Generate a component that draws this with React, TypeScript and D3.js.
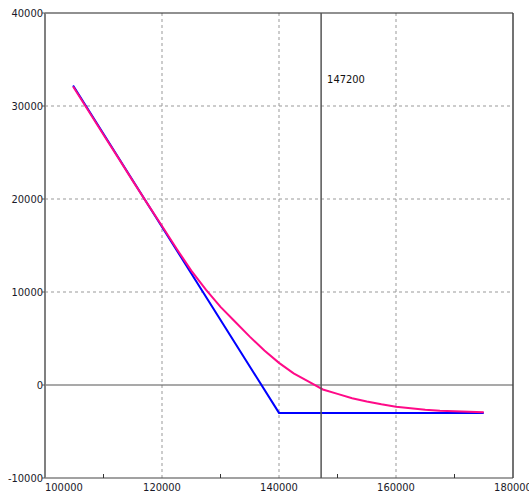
import * as d3 from 'd3';

// underlying price (x) and P/L (y)
const expiryX = [104800, 140000, 175000];
const expiryY = [32200, -3000, -3000];

const todayX = [
  104800, 107500, 110000, 112500, 115000, 117500, 120000, 122500, 125000, 127500,
  130000, 132500, 135000, 137500, 140000, 142500, 145000, 147500, 150000, 152500,
  155000, 157500, 160000, 162500, 165000, 167500, 170000, 172500, 175000,
];
const todayY = [
  32100, 29400, 26900, 24450, 21950, 19500, 17100, 14650, 12300, 10250,
  8400, 6800, 5200, 3700, 2380, 1250, 380, -480, -950, -1420,
  -1770, -2080, -2330, -2500, -2650, -2760, -2830, -2880, -2930,
];

const xTicks = [100000, 120000, 140000, 160000, 180000];
const xMinor = [110000, 130000, 150000, 170000];
const yTicks = [-10000, 0, 10000, 20000, 30000, 40000];
const cursorX = 147200;

const W = 529;
const H = 493;
const left = 45;
const right = 513;
const top = 13;
const bottom = 478;

const font = '"DejaVu Sans Condensed", "DejaVu Sans", sans-serif';

export default function App() {
  const x = d3.scaleLinear().domain([100000, 180000]).range([left, right]);
  const y = d3.scaleLinear().domain([-10000, 40000]).range([bottom, top]);

  const line = d3
    .line<[number, number]>()
    .x((d) => x(d[0]))
    .y((d) => y(d[1]));

  const expiry = expiryX.map((v, i) => [v, expiryY[i]] as [number, number]);
  const today = todayX.map((v, i) => [v, todayY[i]] as [number, number]);

  return (
    <div style={{ position: 'fixed', left: 0, top: 0 }}>
      <svg width={W} height={H} style={{ display: 'block', background: '#fff' }}>
        {/* grid */}
        {[120000, 140000, 160000].map((t) => (
          <line
            key={'gx' + t}
            x1={x(t)}
            x2={x(t)}
            y1={top}
            y2={bottom}
            stroke="#999"
            strokeDasharray="3,3"
          />
        ))}
        {[10000, 20000, 30000].map((t) => (
          <line
            key={'gy' + t}
            x1={left}
            x2={right}
            y1={y(t)}
            y2={y(t)}
            stroke="#999"
            strokeDasharray="3,3"
          />
        ))}

        {/* zero line */}
        <line x1={left} x2={right} y1={y(0)} y2={y(0)} stroke="#555" strokeWidth={1.2} />

        {/* frame */}
        <line x1={left} x2={right} y1={top} y2={top} stroke="#222" strokeWidth={1.2} />
        <line x1={right} x2={right} y1={top} y2={bottom} stroke="#444" strokeWidth={1.5} />
        <line x1={left} x2={right} y1={bottom} y2={bottom} stroke="#444" strokeWidth={1.2} />
        <line x1={left} x2={left} y1={top} y2={bottom} stroke="#808080" strokeWidth={2} />

        {/* minor ticks */}
        {xMinor.map((t) => (
          <line key={'mx' + t} x1={x(t)} x2={x(t)} y1={bottom} y2={bottom - 4} stroke="#333" />
        ))}
        {yTicks.map((t) => (
          <line key={'ty' + t} x1={left - 3} x2={left} y1={y(t)} y2={y(t)} stroke="#555" />
        ))}

        {/* series */}
        <path d={line(expiry) ?? ''} fill="none" stroke="#0000ff" strokeWidth={2} />
        <path d={line(today) ?? ''} fill="none" stroke="#ff0a88" strokeWidth={2} />

        {/* cursor */}
        <line
          x1={x(cursorX)}
          x2={x(cursorX)}
          y1={top}
          y2={bottom}
          stroke="#555"
          strokeWidth={1.5}
        />
        <text x={x(cursorX) + 6} y={83} fontFamily={font} fontSize={11} fill="#111">
          {cursorX}
        </text>

        {/* tick labels */}
        {yTicks.map((t) => (
          <text
            key={'ly' + t}
            x={left - 2}
            y={y(t)}
            dy="0.35em"
            textAnchor="end"
            fontFamily={font}
            fontSize={11}
            fill="#1a1a2a"
          >
            {t}
          </text>
        ))}
        {xTicks.map((t, i) => (
          <text
            key={'lx' + t}
            x={i === 0 ? left : x(t)}
            y={491}
            textAnchor={i === 0 ? 'start' : 'middle'}
            fontFamily={font}
            fontSize={11}
            fill="#1a1a2a"
          >
            {t}
          </text>
        ))}
      </svg>
    </div>
  );
}
